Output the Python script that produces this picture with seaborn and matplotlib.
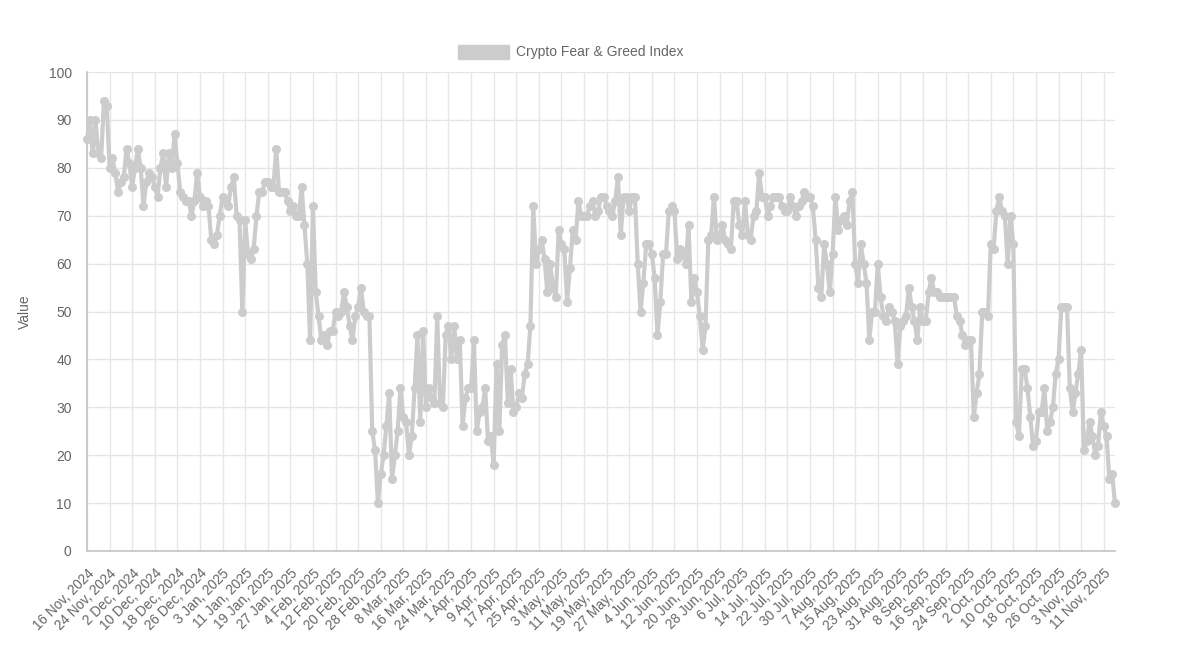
import pandas as pd
import matplotlib.pyplot as plt
import seaborn as sns
import numpy as np
from matplotlib.patches import Patch

# daily Crypto Fear & Greed Index values, 16 Nov 2024 -> 15 Nov 2025
start_date = '2024-11-16'
fg_values = [
    86, 90, 83, 90, 83, 82, 94, 93, 80, 82, 79, 75, 77, 78, 84, 81, 76, 80, 84, 80,
    72, 77, 79, 78, 76, 74, 80, 83, 76, 83, 80, 87, 81, 75, 74, 73, 73, 70, 73, 79,
    74, 72, 73, 72, 65, 64, 66, 70, 74, 73, 72, 76, 78, 70, 69, 50, 69, 62, 61, 63,
    70, 75, 75, 77, 77, 76, 76, 84, 75, 75, 75, 73, 71, 72, 70, 70, 76, 68, 60, 44,
    72, 54, 49, 44, 45, 43, 46, 46, 50, 49, 50, 54, 51, 47, 44, 49, 51, 55, 50, 49,
    49, 25, 21, 10, 16, 20, 26, 33, 15, 20, 25, 34, 28, 27, 20, 24, 34, 45, 27, 46,
    30, 34, 32, 31, 49, 31, 30, 45, 47, 40, 47, 40, 44, 26, 32, 34, 34, 44, 25, 29,
    30, 34, 23, 24, 18, 39, 25, 43, 45, 31, 38, 29, 30, 33, 32, 37, 39, 47, 72, 60,
    63, 65, 61, 54, 60, 55, 53, 67, 64, 63, 52, 59, 67, 65, 73, 70, 70, 70, 72, 73,
    70, 71, 74, 74, 72, 71, 70, 73, 78, 66, 74, 74, 71, 74, 74, 60, 50, 56, 64, 64,
    62, 57, 45, 52, 62, 62, 71, 72, 71, 61, 63, 62, 60, 68, 52, 57, 54, 49, 42, 47,
    65, 66, 74, 65, 66, 68, 65, 64, 63, 73, 73, 68, 66, 73, 66, 65, 70, 71, 79, 74,
    74, 70, 72, 74, 74, 74, 72, 71, 71, 74, 72, 70, 72, 73, 75, 74, 74, 72, 65, 55,
    53, 64, 60, 54, 62, 74, 67, 69, 70, 68, 73, 75, 60, 56, 64, 60, 56, 44, 50, 50,
    60, 53, 49, 48, 51, 50, 48, 39, 47, 48, 49, 55, 51, 48, 44, 51, 48, 48, 54, 57,
    54, 54, 53, 53, 53, 53, 53, 53, 49, 48, 45, 43, 44, 44, 28, 33, 37, 50, 50, 49,
    64, 63, 71, 74, 71, 70, 60, 70, 64, 27, 24, 38, 38, 34, 28, 22, 23, 29, 29, 34,
    25, 27, 30, 37, 40, 51, 51, 51, 34, 29, 33, 37, 42, 21, 23, 27, 24, 20, 22, 29,
    26, 24, 15, 16, 10,
]
y_ticks = list(range(0, 101, 10))
legend_label = 'Crypto Fear & Greed Index'

dates = pd.date_range(start_date, periods=len(fg_values), freq='D')
df = pd.DataFrame({'day': np.arange(len(fg_values)), 'value': fg_values})
tick_pos = list(range(0, len(fg_values), 8))
tick_labels = [f"{d.day} {d.strftime('%b')}, {d.year}" for d in dates[tick_pos]]

sns.set_theme(style='white')
plt.rcParams['font.family'] = ['Liberation Sans', 'DejaVu Sans']

line_col = '#cccccc'
grid_col = '#e6e6e6'
text_col = '#666666'

fig = plt.figure(figsize=(11.77, 6.5), dpi=100)
ax = fig.add_axes([87 / 1177, 1 - 551 / 650, (1115 - 87) / 1177, (551 - 72) / 650])

sns.lineplot(data=df, x='day', y='value', ax=ax, color=line_col, linewidth=3,
             marker='o', markersize=6.5, markeredgewidth=0, zorder=3, clip_on=False)

ax.set_xlim(0, len(fg_values) - 1)
ax.set_ylim(0, 100)
ax.set_xticks(tick_pos)
ax.set_xticklabels(tick_labels, rotation=45, ha='right', rotation_mode='anchor',
                   fontsize=9.8, color=text_col)
ax.set_yticks(y_ticks)
ax.set_yticklabels([str(v) for v in y_ticks], fontsize=10, color=text_col)
ax.tick_params(axis='both', length=8, width=1, color=grid_col, pad=3)
ax.grid(True, color=grid_col, linewidth=1)
ax.set_axisbelow(True)

for side in ['top', 'right']:
    ax.spines[side].set_visible(False)
for side in ['left', 'bottom']:
    ax.spines[side].set_color('#c8c8c8')
    ax.spines[side].set_linewidth(1.3)

ax.set_xlabel('')
ax.set_ylabel('Value', fontsize=10, color=text_col, labelpad=12)

handle = Patch(facecolor=line_col, edgecolor=line_col)
fig.legend(handles=[handle], labels=[legend_label], loc='center',
           bbox_to_anchor=(0.485, 0.92), frameon=False, handlelength=3.7,
           handleheight=1.2, handletextpad=0.5, fontsize=10, labelcolor=text_col)

plt.savefig('out.png', dpi=100)
